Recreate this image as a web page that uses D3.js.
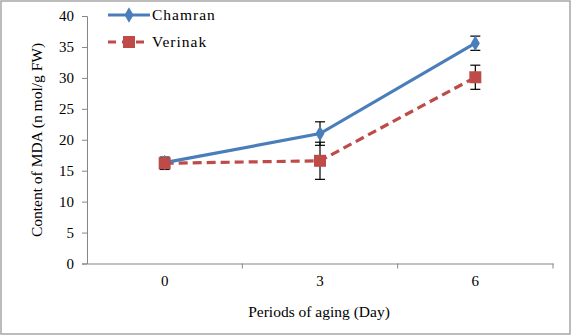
<!DOCTYPE html>
<html><head><meta charset="utf-8">
<script src="https://cdn.jsdelivr.net/npm/d3@7"></script>
<style>body{margin:0;background:#fff}svg{display:block}text{font-family:'Liberation Serif','Times New Roman','DejaVu Serif',serif}</style>
</head><body>
<script>
const categories = ["0", "3", "6"];
const chamran = [16.3, 21.0, 35.6];
const chamranErr = [0.5, 1.9, 1.15];
const verinak = [16.2, 16.6, 30.1];
const verinakErr = [1.0, 3.0, 1.95];
const yTicks = [0, 5, 10, 15, 20, 25, 30, 35, 40];
const seriesNames = ["Chamran", "Verinak"];

(function () {
const W = 572, H = 336;
const svg = d3.select("body").append("svg").attr("width", W).attr("height", H);
svg.append("rect").attr("x", 1).attr("y", 1).attr("width", W - 3).attr("height", H - 3)
  .attr("fill", "#fff").attr("stroke", "#a6a6a6").attr("stroke-width", 1.5);

const pLeft = 87, pRight = 553, pTop = 16, pBottom = 263.5;
const x = d3.scaleBand().domain(categories).range([pLeft, pRight]);
const y = d3.scaleLinear().domain([0, 40]).range([pBottom, pTop]);
const font = "'Liberation Serif', 'Times New Roman', serif";
const axisColor = "#868686";

// y axis
const yAxis = svg.append("g").attr("transform", `translate(${pLeft},0)`)
  .call(d3.axisLeft(y).tickValues(yTicks).tickSize(5).tickPadding(8));
yAxis.select(".domain").attr("stroke", axisColor);
yAxis.selectAll(".tick line").attr("stroke", axisColor);
yAxis.selectAll("text").attr("font-family", font).attr("font-size", 15).attr("fill", "#000");

// x axis
const xAxis = svg.append("g").attr("transform", `translate(0,${pBottom})`)
  .call(d3.axisBottom(x).tickSize(0).tickPadding(12));
xAxis.select(".domain").attr("stroke", axisColor);
xAxis.selectAll("text").attr("font-family", font).attr("font-size", 15).attr("fill", "#000");
const bounds = categories.map(c => x(c) + x.bandwidth());
xAxis.selectAll(".bt").data(bounds).enter().append("line")
  .attr("x1", d => d).attr("x2", d => d).attr("y1", 0).attr("y2", 5).attr("stroke", axisColor);

// titles
svg.append("text").attr("x", 319).attr("y", 317).attr("text-anchor", "middle")
  .attr("font-family", font).attr("font-size", 15.5).text("Periods of aging (Day)");
svg.append("text").attr("transform", "translate(42,140) rotate(-90)").attr("text-anchor", "middle")
  .attr("font-family", font).attr("font-size", 15.5).text("Content of MDA (n mol/g FW)");

const cx = c => x(c) + x.bandwidth() / 2;
const blue = "#4a7ebb", red = "#be4b48";

const line = d3.line().x((d, i) => cx(categories[i])).y(d => y(d));
svg.append("path").datum(verinak).attr("d", line).attr("fill", "none")
  .attr("stroke", red).attr("stroke-width", 3.2).attr("stroke-dasharray", "9,5");
svg.append("path").datum(chamran).attr("d", line).attr("fill", "none")
  .attr("stroke", blue).attr("stroke-width", 3.2);

function errBars(vals, errs) {
  const g = svg.append("g").attr("stroke", "#000").attr("stroke-width", 1.2);
  vals.forEach((v, i) => {
    const X = cx(categories[i]);
    g.append("line").attr("x1", X).attr("x2", X).attr("y1", y(v - errs[i])).attr("y2", y(v + errs[i]));
    [v - errs[i], v + errs[i]].forEach(e => g.append("line").attr("x1", X - 5).attr("x2", X + 5).attr("y1", y(e)).attr("y2", y(e)));
  });
}
errBars(chamran, chamranErr);
errBars(verinak, verinakErr);

const diamond = d3.symbol().type(d3.symbolDiamond).size(70);
svg.selectAll(".dm").data(chamran).enter().append("path")
  .attr("d", diamond).attr("fill", blue)
  .attr("transform", (d, i) => `translate(${cx(categories[i])},${y(d)})`);
svg.selectAll(".sq").data(verinak).enter().append("rect")
  .attr("x", (d, i) => cx(categories[i]) - 6).attr("y", d => y(d) - 6)
  .attr("width", 12).attr("height", 12).attr("fill", red);

// legend
const lg = svg.append("g");
lg.append("line").attr("x1", 108).attr("x2", 150).attr("y1", 15).attr("y2", 15).attr("stroke", blue).attr("stroke-width", 3.2);
lg.append("path").attr("d", diamond).attr("fill", blue).attr("transform", "translate(129,15)");
lg.append("text").attr("x", 152).attr("y", 20).attr("font-family", font).attr("font-size", 15.5).attr("letter-spacing", 1).text(seriesNames[0]);
lg.append("line").attr("x1", 108).attr("x2", 150).attr("y1", 42).attr("y2", 42).attr("stroke", red).attr("stroke-width", 3.2).attr("stroke-dasharray", "8,6");
lg.append("rect").attr("x", 123).attr("y", 36).attr("width", 12).attr("height", 12).attr("fill", red);
lg.append("text").attr("x", 152).attr("y", 47).attr("font-family", font).attr("font-size", 15.5).attr("letter-spacing", 1).text(seriesNames[1]);
})();
</script>
</body></html>
